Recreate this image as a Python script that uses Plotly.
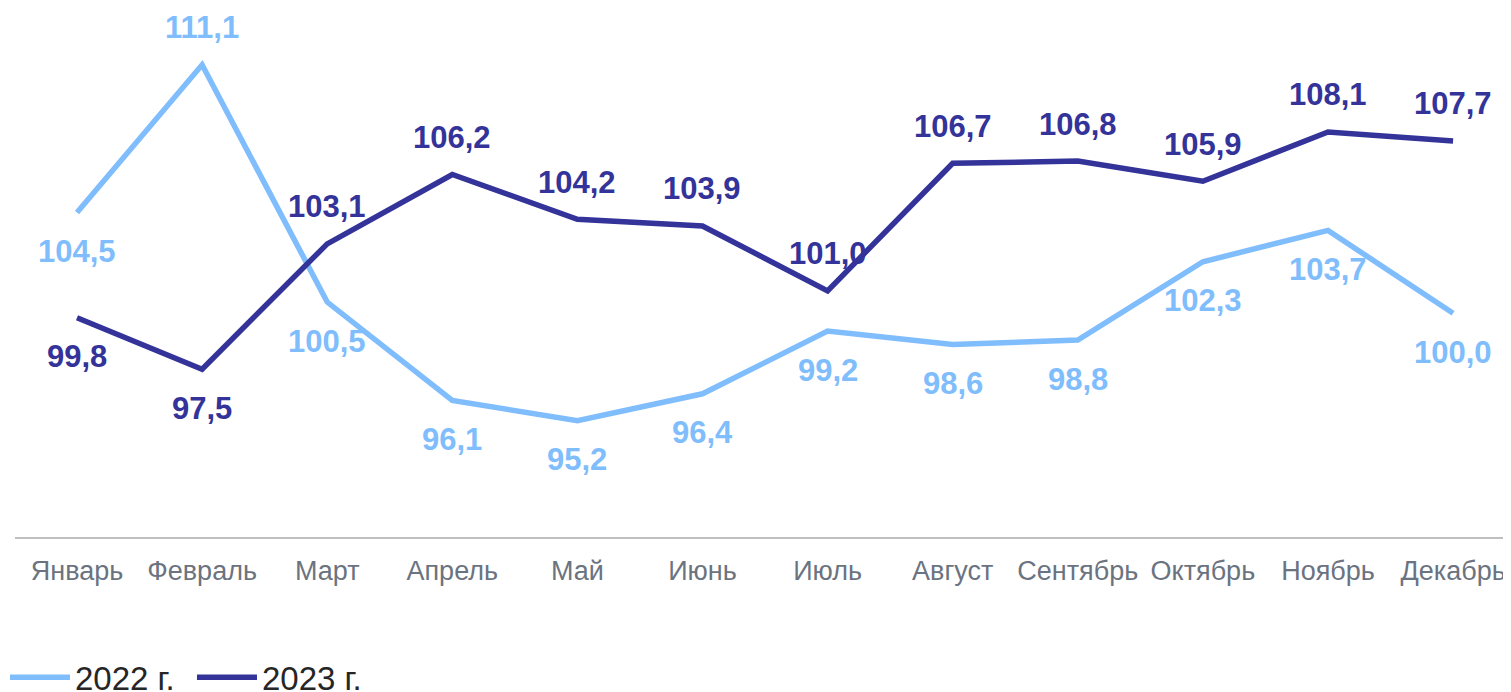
import plotly.graph_objects as go

months = ["Январь", "Февраль", "Март", "Апрель", "Май", "Июнь", "Июль",
          "Август", "Сентябрь", "Октябрь", "Ноябрь", "Декабрь"]
v2022 = [104.5, 111.1, 100.5, 96.1, 95.2, 96.4, 99.2, 98.6, 98.8, 102.3, 103.7, 100.0]
v2023 = [99.8, 97.5, 103.1, 106.2, 104.2, 103.9, 101.0, 106.7, 106.8, 105.9, 108.1, 107.7]
pos2022 = ["below", "above", "below", "below", "below", "below", "below", "below", "below", "below", "below", "below"]
pos2023 = ["below", "below", "above", "above", "above", "above", "above", "above", "above", "above", "above", "above"]

c2022 = "#80BDFC"
c2023 = "#333399"

fig = go.Figure()
fig.add_trace(go.Scatter(x=months, y=v2022, mode="lines", name="2022 г.",
                         line=dict(color=c2022, width=5.5)))
fig.add_trace(go.Scatter(x=months, y=v2023, mode="lines", name="2023 г.",
                         line=dict(color=c2023, width=5.5)))

def fmt(v):
    return f"{v:.1f}".replace(".", ",")

for vals, pos, col in [(v2022, pos2022, c2022), (v2023, pos2023, c2023)]:
    for m, v, p in zip(months, vals, pos):
        fig.add_annotation(x=m, y=v, text=fmt(v), showarrow=False,
                           yshift=37 if p == "above" else -39,
                           font=dict(family="Liberation Sans, Arial", size=31, color=col, weight="bold"))

fig.update_layout(
    width=1503, height=684,
    margin=dict(l=7, r=0, t=0, b=155, autoexpand=False),
    plot_bgcolor="white", paper_bgcolor="white",
    font=dict(family="Liberation Sans, Arial"),
    showlegend=True,
    legend=dict(orientation="h", x=-0.0067, xanchor="left", y=-0.265, yanchor="middle",
                font=dict(size=33, color="#262626"), itemwidth=60,
                entrywidth=112, entrywidthmode="pixels",
                tracegroupgap=0, bgcolor="rgba(0,0,0,0)"),
)
fig.update_xaxes(range=[-0.4956, 11.463], showgrid=False, showline=True, linecolor="#BFBFBF",
                 linewidth=2, ticks="", tickfont=dict(size=27, color="#6B7380"),
                 ticklabelstandoff=9, automargin=False)
fig.update_yaxes(range=[90, 113.64], showgrid=False, showticklabels=False, zeroline=False,
                 showline=False, automargin=False)

fig.write_html("out.html")
